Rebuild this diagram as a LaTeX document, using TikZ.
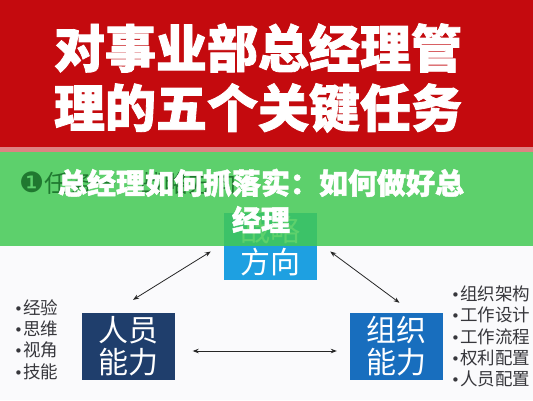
\documentclass[tikz,border=0pt]{standalone}
\usepackage{fontspec}
\newfontfamily\cjk{Noto Sans CJK SC}
\newfontfamily\cjkheavy{Noto Sans CJK SC}[FakeBold=1.6]
\newfontfamily\dejavu{DejaVu Sans}
\usetikzlibrary{arrows.meta}
\newcommand\mybul{{\dejavu\fontsize{15}{21}\selectfont •}}
\definecolor{bgwhite}{RGB}{250,250,252}
\definecolor{hdrred}{RGB}{196,10,14}
\definecolor{pinkline}{RGB}{222,130,130}
\definecolor{ovgreen}{RGB}{66,201,83}
\definecolor{hidgreen}{RGB}{32,120,48}
\definecolor{cyanbox}{RGB}{30,160,225}
\definecolor{navybox}{RGB}{31,62,108}
\definecolor{bluebox}{RGB}{24,110,190}
\definecolor{listgray}{RGB}{55,55,60}
\tikzset{
  titletext/.style={inner sep=0pt, text=white, font=\cjkheavy\bfseries\fontsize{51}{60}\selectfont},
  bannertext/.style={inner sep=0pt, text=white, align=center, font=\cjkheavy\bfseries\fontsize{29}{37}\selectfont},
  keybox/.style={inner sep=0pt, minimum width=93pt, minimum height=67pt, text=white, align=center, font=\cjk\fontsize{30}{32}\selectfont},
  listtext/.style={inner sep=0pt, text=listgray, align=left, font=\cjk\fontsize{17.5}{21.2}\selectfont},
  biarrow/.style={draw=black!85, line width=0.8pt, {Stealth[length=6pt,width=4.5pt]}-{Stealth[length=6pt,width=4.5pt]}}
}
\begin{document}
\begin{tikzpicture}[x=1pt,y=-1pt]
\useasboundingbox (0,0) rectangle (533,400);
\fill[bgwhite] (0,0) rectangle (533,400);
\fill[hdrred] (0,0) rectangle (533,147);
\fill[pinkline] (0,147) rectangle (533,152);
\node[titletext] (t1) at (258,48) {对事业部总经理管};
\node[titletext] (t2) at (258,108) {理的五个关键任务};
% boxes
\node[keybox, fill=cyanbox] (fx) at (270.5,246.5) {战略\\方向};
\node[keybox, fill=navybox] (ry) at (128,346.5) {人员\\能力};
\node[keybox, fill=bluebox] (zz) at (396.5,346.5) {组织\\能力};
% connectors
\draw[biarrow] ([shift={(5pt,13pt)}]ry.north) -- ([shift={(-13pt,-5pt)}]fx.west);
\draw[biarrow] ([shift={(13pt,-5pt)}]fx.east) -- ([shift={(3pt,10pt)}]zz.north);
\draw[biarrow] ([shift={(18pt,-4.5pt)}]ry.east) -- ([shift={(-13pt,-4.5pt)}]zz.west);
% lists
\node[listtext, anchor=west] (ll) at (14,339.5) {\mybul 经验\\\mybul 思维\\\mybul 视角\\\mybul 技能};
\node[listtext, anchor=west] (rl) at (451,336.5) {\mybul 组织架构\\\mybul 工作设计\\\mybul 工作流程\\\mybul 权利配置\\\mybul 人员配置};
% green overlay banner
\fill[ovgreen, opacity=0.85] (0,152) rectangle (533,246);
\node[inner sep=0pt, text=hidgreen, anchor=west, font=\cjk\fontsize{24}{28}\selectfont] (hid) at (19,183) {{\dejavu\fontsize{28}{28}\selectfont ❶}任务一：战略方向};
\node[bannertext] (bn) at (261,201) {总经理如何抓落实：如何做好总\\经理};
\end{tikzpicture}
\end{document}
